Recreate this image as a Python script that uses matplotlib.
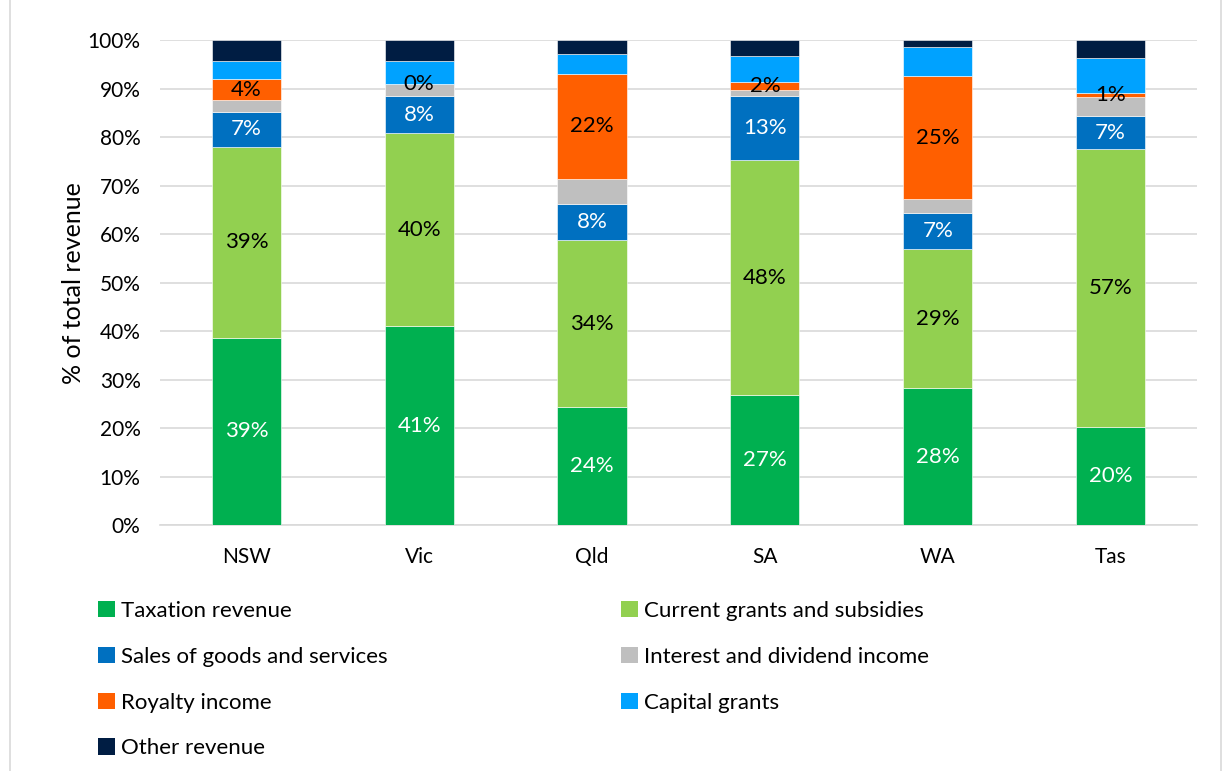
import matplotlib
matplotlib.use("Agg")
import matplotlib.pyplot as plt
from matplotlib.patches import Patch
from matplotlib.lines import Line2D
import numpy as np

plt.rcParams['font.family'] = ['Lato', 'DejaVu Sans']

states = ["NSW", "Vic", "Qld", "SA", "WA", "Tas"]

taxation = [38.6, 41.0, 24.3, 26.8, 28.2, 20.2]
current_grants = [39.4, 39.8, 34.4, 48.4, 28.7, 57.3]
sales = [7.2, 7.6, 7.6, 13.2, 7.4, 6.8]
interest = [2.4, 2.5, 5.1, 1.4, 2.9, 4.0]
royalty = [4.4, 0.0, 21.7, 1.6, 25.4, 0.8]
capital_grants = [3.7, 4.8, 4.1, 5.4, 6.0, 7.2]
other = [4.3, 4.3, 2.8, 3.2, 1.4, 3.7]

series = [
    ("Taxation revenue", taxation, "#00B050", "white"),
    ("Current grants and subsidies", current_grants, "#92D050", "black"),
    ("Sales of goods and services", sales, "#0070C0", "white"),
    ("Interest and dividend income", interest, "#BFBFBF", None),
    ("Royalty income", royalty, "#FF5F00", "black"),
    ("Capital grants", capital_grants, "#00A2FF", None),
    ("Other revenue", other, "#001D43", None),
]

fig = plt.figure(figsize=(12.26, 7.71), dpi=100)
ax = fig.add_axes([0.1305, 0.319, 0.8458, 0.629])

x = np.arange(len(states))
bottom = np.zeros(len(states))
for name, vals, color, label_color in series:
    vals = np.array(vals)
    ax.bar(x, vals, 0.4, bottom=bottom, color=color, edgecolor="white",
           linewidth=0.4, zorder=3, label=name)
    if label_color is not None:
        for xi, b, v in zip(x, bottom, vals):
            ax.text(xi, b + v / 2, f"{v:.0f}%", ha="center", va="center",
                    color=label_color, fontsize=16, zorder=4)
    bottom += vals

ax.set_xlim(-0.5, len(states) - 0.5)
ax.set_ylim(0, 100)
ax.set_yticks(np.arange(0, 101, 10))
ax.set_yticklabels([f"{t}%" for t in range(0, 101, 10)])
ax.set_xticks(x)
ax.set_xticklabels(states)
ax.yaxis.grid(True, color="#D9D9D9", linewidth=1.2, zorder=0)
ax.set_axisbelow(True)
for s in ["top", "right", "left"]:
    ax.spines[s].set_visible(False)
ax.spines["bottom"].set_color("#D9D9D9")
ax.spines["bottom"].set_linewidth(1.2)
ax.tick_params(axis="both", length=0, labelsize=15, colors="black")
ax.tick_params(axis="y", pad=14)
ax.tick_params(axis="x", pad=16)
ax.set_ylabel("% of total revenue", fontsize=18, labelpad=2)

# Legend laid out as two columns, filled row by row
handles = [Patch(facecolor=c, edgecolor="none", label=n) for n, _, c, _ in series]
left_col = [handles[0], handles[2], handles[4], handles[6]]
right_col = [handles[1], handles[3], handles[5]]
common = dict(frameon=False, fontsize=16, handlelength=0.75, handleheight=0.75,
              handletextpad=0.3, labelspacing=1.16, borderpad=0, borderaxespad=0)
leg1 = fig.legend(handles=left_col, loc="upper left",
                  bbox_to_anchor=(98 / 1226, 1 - 601 / 771), **common)
leg2 = fig.legend(handles=right_col, loc="upper left",
                  bbox_to_anchor=(621 / 1226, 1 - 601 / 771), **common)

# Outer chart frame
for xf in (10 / 1226, 1221 / 1226):
    fig.add_artist(Line2D([xf, xf], [0, 1], transform=fig.transFigure,
                          color="#D9D9D9", linewidth=1.2))

fig.savefig("out.png", dpi=100, facecolor="white")
